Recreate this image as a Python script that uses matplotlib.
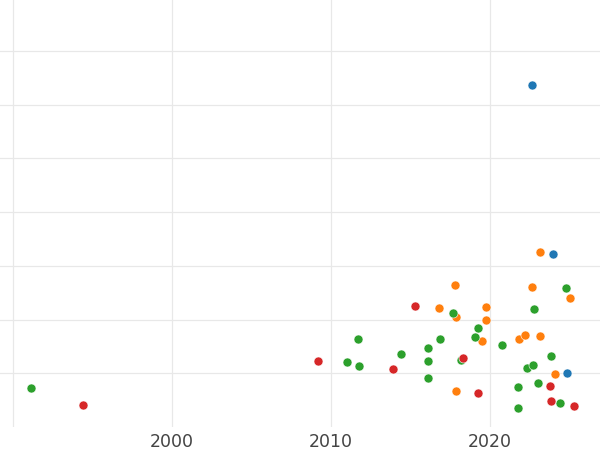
import matplotlib
matplotlib.use("Agg")
import matplotlib.pyplot as plt

# one pair of lists per colour group: year, value
blue_year = [2022.7, 2024.0, 2024.9]
blue_val = [63.7, 32.3, 10.1]

orange_year = [2017.8, 2016.8, 2017.9, 2019.8, 2019.8, 2019.5, 2017.9,
               2023.2, 2022.65, 2025.07, 2021.83, 2022.23, 2023.19, 2024.14]
orange_val = [26.4, 22.2, 20.5, 22.3, 19.9, 16.0, 6.7,
              32.5, 26.0, 24.0, 16.3, 17.1, 16.9, 9.8]

green_year = [1991.1, 2011.0, 2011.7, 2011.8, 2014.4, 2016.1, 2016.1, 2016.1,
              2016.9, 2017.7, 2018.2, 2019.3, 2019.1, 2020.8, 2024.83, 2022.82,
              2023.87, 2022.34, 2022.75, 2021.77, 2023.07, 2024.43, 2021.77]
green_val = [7.26, 12.1, 16.4, 11.4, 13.6, 14.7, 12.3, 9.1,
             16.4, 21.2, 12.5, 18.4, 16.8, 15.3, 25.8, 22.0,
             13.2, 11.0, 11.5, 7.5, 8.2, 4.5, 3.6]

red_year = [1994.4, 2009.2, 2013.9, 2015.3, 2018.3, 2019.3, 2023.79, 2023.87, 2025.32]
red_val = [4.1, 12.3, 10.8, 22.5, 12.8, 6.3, 7.7, 4.9, 3.9]

xticks = [1990, 2000, 2010, 2020]
xtick_labels = ['', '2000', '2010', '2020']

fig = plt.figure(figsize=(6, 4.5), dpi=100)
ax = fig.add_axes([0, 23 / 450, 1, 427 / 450])

groups = [
    (blue_year, blue_val, '#1f77b4'),
    (orange_year, orange_val, '#ff7f0e'),
    (green_year, green_val, '#2ca02c'),
    (red_year, red_val, '#d62728'),
]
for xs, ys, c in groups:
    ax.scatter(xs, ys, s=42, color=c, edgecolors='white', linewidths=0.4, zorder=3)

ax.set_xlim(1989.15, 2026.96)
ax.set_ylim(0, 79.5)
ax.set_xticks(xticks)
ax.set_xticklabels(xtick_labels)
ax.set_yticks(range(10, 80, 10))
ax.set_yticklabels([])
ax.grid(True, color='#e8e8e8', lw=0.9)
ax.tick_params(length=0, pad=4.5, labelsize=12.5, labelcolor='#444444')
for s in ax.spines.values():
    s.set_visible(False)

fig.savefig('out.png', dpi=100)
